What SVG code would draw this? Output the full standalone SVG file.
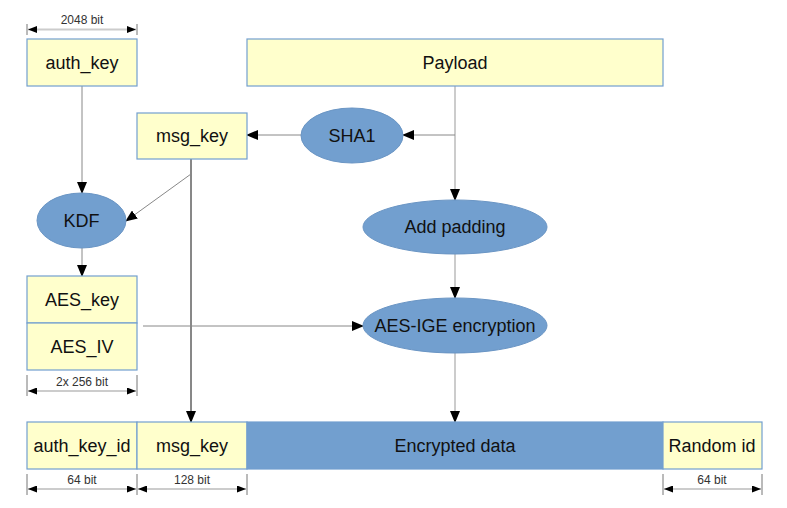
<svg xmlns="http://www.w3.org/2000/svg" width="787" height="508" viewBox="0 0 787 508">
<style>
.box{fill:#ffffcc;stroke:#729fcf;stroke-width:1.2}
.blue{fill:#729fcf;stroke:#729fcf;stroke-width:1.2}
.ell{fill:#729fcf;stroke:#6a95c4;stroke-width:1}
.t{font-family:"Liberation Sans",Arial,sans-serif;font-size:18px;fill:#111;text-anchor:middle;dominant-baseline:central}
.d{font-family:"Liberation Sans",Arial,sans-serif;font-size:12px;fill:#333;text-anchor:middle}
.c{fill:none;stroke:#888;stroke-width:1}
.ck{fill:none;stroke:#111;stroke-width:1}
.cl{fill:none;stroke:#ccc;stroke-width:2}
.dim{fill:none;stroke:#ccc;stroke-width:2}
.tick{fill:none;stroke:#777;stroke-width:1}
</style>
<defs>
<marker id="ah" markerUnits="userSpaceOnUse" markerWidth="12" markerHeight="10" refX="11" refY="5" orient="auto">
<path d="M0,0 L12,5 L0,10 Z" fill="#000"/>
</marker>
<marker id="dh" markerUnits="userSpaceOnUse" markerWidth="9" markerHeight="7" refX="9" refY="3.5" orient="auto-start-reverse">
<path d="M0,0 L9,3.5 L0,7 Z" fill="#000"/>
</marker>
</defs>

<g id="connectors">
<line class="c" x1="82" y1="86" x2="82" y2="193" marker-end="url(#ah)"/>
<line class="c" x1="82" y1="248" x2="82" y2="276" marker-end="url(#ah)"/>
<line class="ck" x1="191" y1="159" x2="191" y2="422" marker-end="url(#ah)"/>
<line class="c" x1="191" y1="174" x2="126" y2="221" marker-end="url(#ah)"/>
<line class="cl" x1="455" y1="86" x2="455" y2="200" marker-end="url(#ah)"/>
<line class="c" x1="455" y1="135" x2="403" y2="135" marker-end="url(#ah)"/>
<line class="c" x1="301" y1="135" x2="247" y2="135" marker-end="url(#ah)"/>
<line class="cl" x1="455" y1="254" x2="455" y2="298" marker-end="url(#ah)"/>
<line class="c" x1="143" y1="326" x2="363" y2="326" marker-end="url(#ah)"/>
<line class="cl" x1="455" y1="353" x2="455" y2="422" marker-end="url(#ah)"/>
</g>

<g id="dim-2048">
<line class="tick" x1="27" y1="24" x2="27" y2="35"/>
<line class="tick" x1="137" y1="24" x2="137" y2="35"/>
<line class="dim" x1="28" y1="29.5" x2="136" y2="29.5" marker-start="url(#dh)" marker-end="url(#dh)"/>
<text class="d" x="82" y="24">2048 bit</text>
</g>

<g id="auth_key"><rect class="box" x="27" y="39" width="110" height="47"/><text class="t" x="82" y="62.5">auth_key</text></g>
<g id="payload"><rect class="box" x="247" y="39" width="416" height="47"/><text class="t" x="455" y="62.5">Payload</text></g>
<g id="msg_key_top"><rect class="box" x="137" y="113" width="110" height="46"/><text class="t" x="192" y="136">msg_key</text></g>
<g id="sha1"><ellipse class="ell" cx="352" cy="135.5" rx="51" ry="27.5"/><text class="t" x="352" y="136">SHA1</text></g>
<g id="kdf"><ellipse class="ell" cx="81.5" cy="220.5" rx="44.5" ry="27.5"/><text class="t" x="81.5" y="221">KDF</text></g>
<g id="add_padding"><ellipse class="ell" cx="455" cy="227" rx="92" ry="27"/><text class="t" x="455" y="227">Add padding</text></g>
<g id="aes_key"><rect class="box" x="27" y="276" width="110" height="47"/><text class="t" x="82" y="299.5">AES_key</text></g>
<g id="aes_iv"><rect class="box" x="27" y="323" width="110" height="47"/><text class="t" x="82" y="347">AES_IV</text></g>
<g id="aes_ige"><ellipse class="ell" cx="455" cy="325.5" rx="92" ry="27.5"/><text class="t" x="455" y="326">AES-IGE encryption</text></g>

<g id="dim-256">
<line class="tick" x1="27" y1="375" x2="27" y2="396"/>
<line class="tick" x1="137" y1="375" x2="137" y2="396"/>
<line class="dim" x1="28" y1="391" x2="136" y2="391" marker-start="url(#dh)" marker-end="url(#dh)"/>
<text class="d" x="82" y="386">2x 256 bit</text>
</g>

<g id="auth_key_id"><rect class="box" x="27" y="422" width="110" height="47"/><text class="t" x="82" y="445.5">auth_key_id</text></g>
<g id="msg_key_bottom"><rect class="box" x="137" y="422" width="110" height="47"/><text class="t" x="192" y="445.5">msg_key</text></g>
<g id="encrypted_data"><rect class="blue" x="247" y="422" width="416" height="47"/><text class="t" x="455" y="445.5">Encrypted data</text></g>
<g id="random_id"><rect class="box" x="663" y="422" width="99" height="47"/><text class="t" x="712" y="445.5">Random id</text></g>

<g id="dim-bottom">
<line class="tick" x1="27" y1="474" x2="27" y2="495"/>
<line class="tick" x1="137" y1="474" x2="137" y2="495"/>
<line class="tick" x1="247" y1="474" x2="247" y2="495"/>
<line class="tick" x1="663" y1="474" x2="663" y2="495"/>
<line class="tick" x1="762" y1="474" x2="762" y2="495"/>
<line class="dim" x1="28" y1="489" x2="136" y2="489" marker-start="url(#dh)" marker-end="url(#dh)"/>
<line class="dim" x1="138" y1="489" x2="246" y2="489" marker-start="url(#dh)" marker-end="url(#dh)"/>
<line class="dim" x1="664" y1="489" x2="761" y2="489" marker-start="url(#dh)" marker-end="url(#dh)"/>
<text class="d" x="82" y="484">64 bit</text>
<text class="d" x="192" y="484">128 bit</text>
<text class="d" x="712" y="484">64 bit</text>
</g>
</svg>
